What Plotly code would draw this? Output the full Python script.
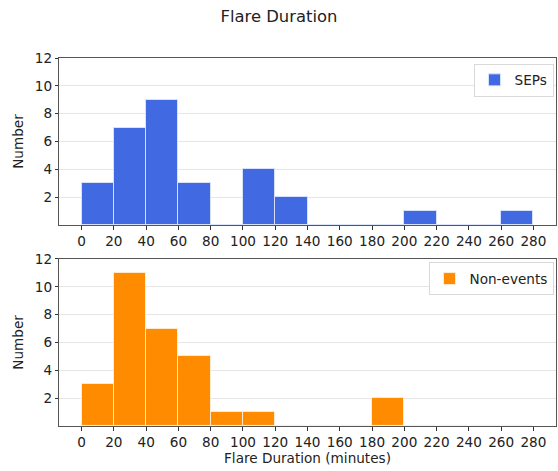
import plotly.graph_objects as go
from plotly.subplots import make_subplots

bin_edges = list(range(0, 300, 20))
bin_centers = [e + 10 for e in bin_edges[:-1]]
sep_counts = [3, 7, 9, 3, 0, 4, 2, 0, 0, 0, 1, 0, 0, 1]
non_counts = [3, 11, 7, 5, 1, 1, 0, 0, 0, 2, 0, 0, 0, 0]
x_ticks = list(range(0, 300, 20))
y_ticks = [2, 4, 6, 8, 10, 12]

fig = make_subplots(rows=2, cols=1, vertical_spacing=0.092)

fig.add_trace(go.Bar(x=bin_centers, y=sep_counts, width=20, name="SEPs", showlegend=True,
                     marker=dict(color="#4169E1", line=dict(color="rgba(220,230,255,0.9)", width=1)),
                     legend="legend"), row=1, col=1)
fig.add_trace(go.Bar(x=bin_centers, y=non_counts, width=20, name="Non-events", showlegend=True,
                     marker=dict(color="#FF8C00", line=dict(color="rgba(255,240,220,0.9)", width=1)),
                     legend="legend2"), row=2, col=1)

font = dict(family="DejaVu Sans", size=13.6, color="#222")
for r in (1, 2):
    fig.update_xaxes(range=[-14, 294], tickvals=x_ticks, ticks="outside", ticklen=4,
                     tickcolor="#333", showgrid=False, showline=True, linecolor="#555",
                     linewidth=1.2, mirror=True, tickfont=font, zeroline=False, row=r, col=1)
    fig.update_yaxes(range=[0, 12], tickvals=y_ticks, showgrid=True, gridcolor="#e6e6e6",
                     gridwidth=1.2, showline=True, linecolor="#555", linewidth=1.2, mirror=True,
                     tickfont=font, zeroline=False, ticks="outside", ticklen=3, tickcolor="#333",
                     title=dict(text="Number", font=font, standoff=8), row=r, col=1)
fig.update_xaxes(title=dict(text="Flare Duration (minutes)", font=font, standoff=4), row=2, col=1)

leg = dict(xanchor="right", yanchor="top", bgcolor="white", bordercolor="#d9d9d9",
           borderwidth=1, font=font)
fig.update_layout(
    width=558, height=471,
    margin=dict(l=59, r=2, t=58, b=45),
    plot_bgcolor="white", paper_bgcolor="white",
    showlegend=True,
    title=dict(text="Flare Duration", x=0.5, xanchor="center", y=0.965, yanchor="middle",
               font=dict(family="DejaVu Sans", size=16.4, color="#222")),
    legend=dict(x=0.995, y=0.985, **leg),
    legend2=dict(x=0.995, y=0.445, **leg),
    bargap=0,
)
fig.write_html("out.html")
